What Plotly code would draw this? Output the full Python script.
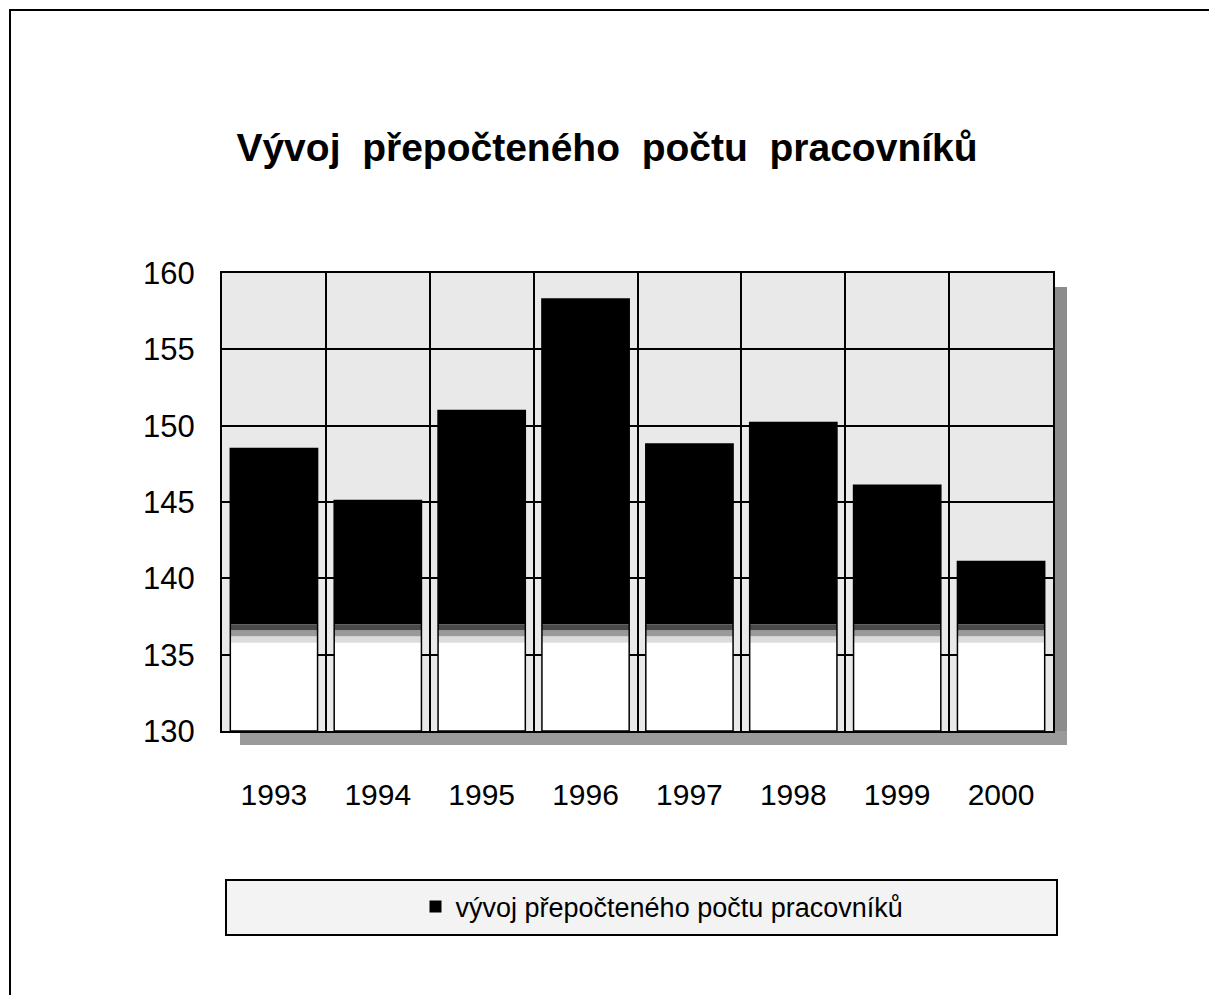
import plotly.graph_objects as go

years = ["1993", "1994", "1995", "1996", "1997", "1998", "1999", "2000"]
values = [148.5, 145.1, 151.0, 158.3, 148.8, 150.2, 146.1, 141.1]
y_ticks = [130, 135, 140, 145, 150, 155, 160]
title_text = "Vývoj  přepočteného  počtu  pracovníků"
series_name = "vývoj přepočteného počtu pracovníků"

AXIS_MIN = 130
# fade bands (lower white part of each bar, dithered transition to black)
fade_levels = [135.8, 136.2, 136.6, 137.0]
fade_colors = ["#dcdcdc", "#9a9a9a", "#4a4a4a"]

FONT = "Arial, Liberation Sans, sans-serif"

fig = go.Figure()

# black upper part of bars
fig.add_trace(go.Bar(
    x=years, y=[v - fade_levels[-1] for v in values], base=fade_levels[-1],
    marker=dict(color="black", line=dict(width=0)), name=series_name,
    showlegend=True,
))
# white lower part
fig.add_trace(go.Bar(
    x=years, y=[fade_levels[0] - AXIS_MIN] * len(years), base=AXIS_MIN,
    marker=dict(color="white", line=dict(width=0)), showlegend=False, hoverinfo="skip",
))
# transition bands
for i, c in enumerate(fade_colors):
    lo, hi = fade_levels[i], fade_levels[i + 1]
    fig.add_trace(go.Bar(
        x=years, y=[hi - lo] * len(years), base=lo,
        marker=dict(color=c, line=dict(width=0)), showlegend=False, hoverinfo="skip",
    ))
# outline of each full bar
fig.add_trace(go.Bar(
    x=years, y=[v - AXIS_MIN for v in values], base=AXIS_MIN,
    marker=dict(color="rgba(0,0,0,0)", line=dict(color="black", width=1.5)),
    showlegend=False, hoverinfo="skip",
))

# page body has an 8px margin; figure origin is at (8, 8) in the window
OFF = 8
FW, FH = 1217 - 2 * OFF, 1003 - 2 * OFF
L = 222 - OFF
T = 273 - OFF
R = FW - (1053 - OFF)
B = FH - (731 - OFF)
W, H = FW - L - R, FH - T - B


def px_x(p):
    return (p - OFF - L) / W


def px_y(p):
    return (FH - B - (p - OFF)) / H


shapes = [
    # right and bottom shadow of plot area
    dict(type="rect", xref="paper", yref="paper", x0=1.0, x1=px_x(1067), y0=px_y(743), y1=px_y(287),
         fillcolor="#8c8c8c", line=dict(width=0), layer="below"),
    dict(type="rect", xref="paper", yref="paper", x0=px_x(240), x1=px_x(1067), y0=px_y(745), y1=0.0,
         fillcolor="#9a9a9a", line=dict(width=0), layer="below"),
    # legend box
    dict(type="rect", xref="paper", yref="paper", x0=px_x(226), x1=px_x(1057), y0=px_y(935), y1=px_y(880),
         fillcolor="#f3f3f3", line=dict(color="black", width=2), layer="below"),
    # page frame
    dict(type="rect", xref="paper", yref="paper", x0=px_x(10), x1=px_x(1240), y0=px_y(1040), y1=px_y(10),
         fillcolor="rgba(0,0,0,0)", line=dict(color="black", width=2), layer="below"),
]

fig.update_layout(
    width=FW, height=FH,
    margin=dict(l=L, r=R, t=T, b=B),
    paper_bgcolor="white",
    plot_bgcolor="#e9e9e9",
    barmode="overlay",
    bargap=0.16,
    font=dict(family=FONT, color="black"),
    title=dict(text="<b>" + title_text + "</b>", x=(607 - OFF) / FW, xref="container", xanchor="center",
               y=1 - (147 - OFF) / FH, yref="container", yanchor="middle",
               font=dict(size=39, family=FONT, color="black")),
    xaxis=dict(
        type="category", tickson="boundaries", showgrid=True, gridcolor="black", gridwidth=2,
        showline=True, linecolor="black", linewidth=2, mirror=True,
        ticks="", tickfont=dict(size=30, family=FONT), ticklabelstandoff=36,
    ),
    yaxis=dict(
        range=[AXIS_MIN, 160], tickvals=y_ticks, showgrid=True, gridcolor="black", gridwidth=2,
        showline=True, linecolor="black", linewidth=2, mirror=True, zeroline=False,
        ticks="", tickfont=dict(size=31, family=FONT), ticklabelstandoff=19,
    ),
    legend=dict(
        x=px_x(662), xanchor="center", y=px_y(907), yanchor="middle",
        bgcolor="rgba(0,0,0,0)", borderwidth=0,
        font=dict(size=27, family=FONT, color="black"), itemsizing="constant",
    ),
    shapes=shapes,
    showlegend=True,
)

fig.write_html("out.html")
